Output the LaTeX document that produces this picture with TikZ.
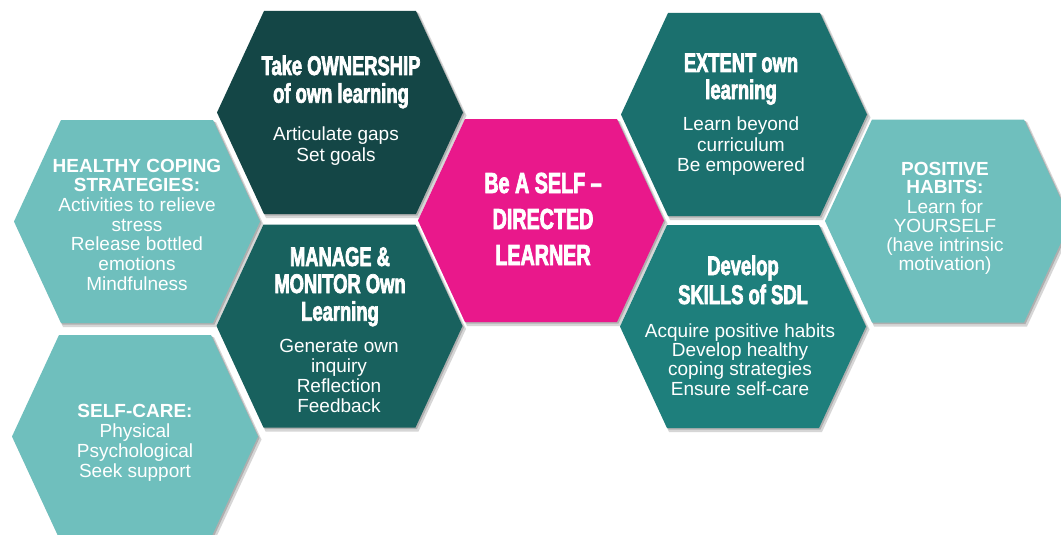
\documentclass[tikz,border=0pt]{standalone}
\usepackage{fontspec}
\setmainfont{Liberation Sans}
\newfontfamily\headfont[FakeStretch=0.68,BoldFeatures={FakeBold=2.5}]{Liberation Sans}
\definecolor{cOwn}{RGB}{20,70,70}
\definecolor{cManage}{RGB}{24,97,94}
\definecolor{cExtent}{RGB}{27,112,110}
\definecolor{cDevelop}{RGB}{30,127,124}
\definecolor{cLight}{RGB}{111,191,189}
\definecolor{cPink}{RGB}{233,24,139}
\definecolor{cShadow}{RGB}{175,175,175}
\begin{document}
\begin{tikzpicture}[x=1pt,y=-1pt,
  hexagon/.pic={\fill[pic actions] (-123,0) -- (-76,-101.5) -- (76,-101.5) -- (123,0) -- (76,101.5) -- (-76,101.5) -- cycle;},
  hexshadow/.pic={\fill[pic actions] (-124,0) -- (-76.5,-102.5) -- (76.5,-102.5) -- (124,0) -- (76.5,102.5) -- (-76.5,102.5) -- cycle;},
  txt/.style={inner sep=0pt, anchor=base, text=white},
  titlefont/.style={font=\headfont\bfseries\fontsize{27}{#1}\selectfont},
  bodyfont/.style={font=\fontsize{19}{#1}\selectfont}
]
\useasboundingbox (0,0) rectangle (1061,535);
\fill[white] (0,0) rectangle (1061,535);
\renewcommand\arraystretch{1}
% hexagon centres
\coordinate (hHealthy) at (137,221.5);
\coordinate (hCare) at (135,436.5);
\coordinate (hOwn) at (340,112.5);
\coordinate (hManage) at (339.5,326);
\coordinate (hPink) at (541,220.5);
\coordinate (hExtent) at (744,114.5);
\coordinate (hDevelop) at (743,326.5);
\coordinate (hPositive) at (948,221);
% shadows
\foreach \c in {hHealthy,hCare,hOwn,hManage,hPink,hExtent,hDevelop,hPositive}{
  \pic[fill=cShadow, opacity=0.5, xshift=2.5pt, yshift=-3pt] at (\c) {hexshadow};
  \pic[fill=cShadow, xshift=1.5pt, yshift=-1.5pt] at (\c) {hexagon};
}
% hexagons
\pic[fill=cLight] at (hHealthy) {hexagon};
\pic[fill=cLight] at (hCare) {hexagon};
\pic[fill=cOwn] at (hOwn) {hexagon};
\pic[fill=cManage] at (hManage) {hexagon};
\pic[fill=cPink] at (hPink) {hexagon};
\pic[fill=cExtent] at (hExtent) {hexagon};
\pic[fill=cDevelop] at (hDevelop) {hexagon};
\pic[fill=cLight] at (hPositive) {hexagon};
% texts
\node[txt, titlefont=27] (ownT) at (341,75) {\begin{tabular}[t]{@{}c@{}}Take OWNERSHIP\\of own learning\end{tabular}};
\node[txt, bodyfont=21] (ownB) at (336,140) {\begin{tabular}[t]{@{}c@{}}Articulate gaps\\Set goals\end{tabular}};
\node[txt, bodyfont=19.7] (healthy) at (137,172) {\begin{tabular}[t]{@{}c@{}}\textbf{HEALTHY COPING}\\\textbf{STRATEGIES:}\\Activities to relieve\\stress\\Release bottled\\emotions\\Mindfulness\end{tabular}};
\node[txt, titlefont=27] (manageT) at (340,266) {\begin{tabular}[t]{@{}c@{}}MANAGE \&\\MONITOR Own\\Learning\end{tabular}};
\node[txt, bodyfont=20] (manageB) at (339,352) {\begin{tabular}[t]{@{}c@{}}Generate own\\inquiry\\Reflection\\Feedback\end{tabular}};
\node[txt, bodyfont=20] (care) at (135,417) {\begin{tabular}[t]{@{}c@{}}\textbf{SELF-CARE:}\\Physical\\Psychological\\Seek support\end{tabular}};
\node[txt, font=\headfont\bfseries\fontsize{29}{36}\selectfont] (pink) at (543,193) {\begin{tabular}[t]{@{}c@{}}Be A SELF –\\DIRECTED\\LEARNER\end{tabular}};
\node[txt, titlefont=25] (extentT) at (741,72) {\begin{tabular}[t]{@{}c@{}}EXTENT own\\learning\end{tabular}};
\node[txt, bodyfont=21] (extentB) at (741,130) {\begin{tabular}[t]{@{}c@{}}Learn beyond\\curriculum\\Be empowered\end{tabular}};
\node[txt, titlefont=29] (developT) at (743,275) {\begin{tabular}[t]{@{}c@{}}Develop\\SKILLS of SDL\end{tabular}};
\node[txt, bodyfont=18.7] (developB) at (740,337) {\begin{tabular}[t]{@{}c@{}}Acquire positive habits\\Develop healthy\\coping strategies\\Ensure self-care\end{tabular}};
\node[txt, bodyfont=18.6] (positive) at (945,175) {\begin{tabular}[t]{@{}c@{}}\textbf{POSITIVE}\\\textbf{HABITS:}\\Learn for\\YOURSELF\\(have intrinsic\\motivation)\end{tabular}};
\end{tikzpicture}
\end{document}
